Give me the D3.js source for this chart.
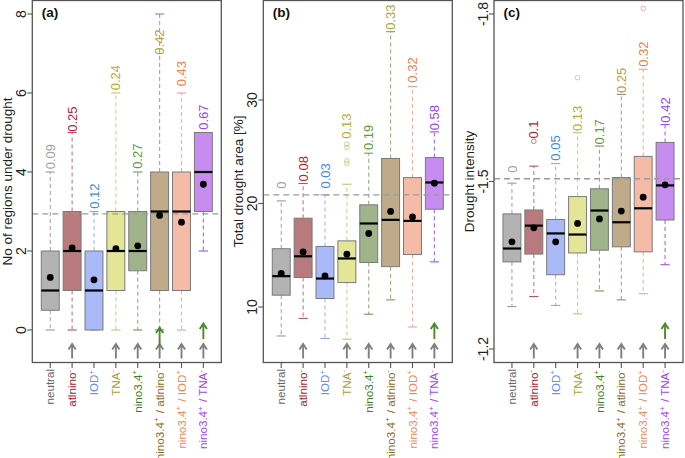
<!DOCTYPE html>
<html><head><meta charset="utf-8">
<script src="https://cdn.jsdelivr.net/npm/d3@7"></script>
<style>
body{margin:0;background:#fff}
svg{display:block}
text{font-family:"Liberation Sans",Arial,Helvetica,sans-serif}
</style></head>
<body><svg id="chart" width="685" height="458"></svg>
<script>
// ---------- DATA ----------
const categories = ["neutral","atlnino-","IOD+","TNA-","nino3.4+","nino3.4+/atlnino-","nino3.4+/IOD+","nino3.4+/TNA-"];
const xLabelParts = [
  [["neutral",""]],
  [["atlnino","-"]],
  [["IOD","+"]],
  [["TNA","-"]],
  [["nino3.4","+"]],
  [["nino3.4","+"],[" / atlnino","-"]],
  [["nino3.4","+"],[" / IOD","+"]],
  [["nino3.4","+"],[" / TNA","-"]]
];

// (a) number of regions under drought
const aLow  = [0, 0, 0, 0, 0, 0, 0, 2];
const aQ1   = [0.5, 1, 0, 1, 1.5, 1, 1, 3];
const aMed  = [1, 2, 1, 2, 2, 3, 3, 4];
const aQ3   = [2, 3, 2, 3, 3, 4, 4, 5];
const aHigh = [4, 5, 3, 6, 4, 8, 6, 5];
const aMean = [1.33, 2.08, 1.27, 2.06, 2.13, 2.9, 2.73, 3.69];
const aOut  = [[],[],[],[],[],[],[],[]];
const aProb = ["0.09","0.25","0.12","0.24","0.27","0.42","0.43","0.67"];
const aProbAt = [4.39, 5.34, 3.39, 6.39, 4.4, 7.29, 6.49, 5.39];
const aRef = 2.94;
const aTicks = [0, 2, 4, 6, 8];

// (b) total drought area [%]
const bLow  = [7.2, 8.9, 6.96, 6.89, 9.3, 10.69, 8.07, 14.36];
const bQ1   = [11.14, 12.85, 10.82, 12.36, 14.3, 13.9, 15.07, 19.45];
const bMed  = [12.98, 14.9, 12.75, 14.69, 18.07, 18.42, 18.32, 22.03];
const bQ3   = [15.63, 18.58, 15.85, 16.39, 19.87, 24.35, 22.5, 24.44];
const bHigh = [20.25, 21.93, 20.83, 21.86, 24.86, 36.6, 31.3, 26.92];
const bMean = [13.24, 15.32, 13.0, 15.1, 17.1, 19.23, 18.7, 21.96];
const bOut  = [[],[],[],[23.87, 24.12, 25.41, 25.73],[],[],[],[]];
const bProb = ["0","0.08","0.03","0.13","0.19","0.33","0.32","0.58"];
const bProbAt = [21.77, 23.36, 22.67, 27.47, 26.38, 38.0, 32.9, 28.3];
const bRef = 20.83;
const bTicks = [10, 20, 30];

// (c) drought intensity
const cLow  = [-1.276, -1.294, -1.278, -1.263, -1.304, -1.288, -1.299, -1.351];
const cQ1   = [-1.356, -1.370, -1.333, -1.372, -1.377, -1.383, -1.374, -1.431];
const cMed  = [-1.380, -1.421, -1.407, -1.405, -1.448, -1.427, -1.452, -1.493];
const cQ3   = [-1.442, -1.449, -1.432, -1.473, -1.487, -1.507, -1.545, -1.570];
const cHigh = [-1.497, -1.5275, -1.532, -1.5875, -1.5635, -1.656, -1.701, -1.602];
const cMean = [-1.392, -1.417, -1.392, -1.425, -1.433, -1.447, -1.472, -1.494];
const cOut  = [[],[-1.572],[],[-1.686],[],[],[-1.810],[]];
const cProb = ["0","0.1","0.05","0.13","0.17","0.25","0.32","0.42"];
const cProbAt = [-1.522, -1.593, -1.560, -1.613, -1.589, -1.681, -1.728, -1.628];
const cRef = -1.505;
const cTicks = [-1.8, -1.5, -1.2];

// arrows (1 = drawn)
const grayArrows = [0, 1, 0, 1, 1, 1, 1, 1];
const aGreenArrows = [0, 0, 0, 0, 0, 2, 0, 1];
const bGreenArrows = [0, 0, 0, 0, 0, 0, 0, 1];
const cGreenArrows = [0, 0, 0, 0, 0, 0, 0, 1];

// ---------- STYLE ----------
const boxFill = ["#b3b3b3","#b97a7d","#aab9f7","#e5e597","#9fb48b","#bfab89","#f4bca6","#c68cf0"];
const whiskerColor = ["#a8a8a8","#c27a7c","#a5b6f8","#cfcf8d","#94ad82","#b3a283","#f0b0a0","#a768ee"];
const capColor = ["#9a9a9a","#b2535e","#8ea4f2","#c2c27a","#75955f","#a08a62","#eea290","#9a55ee"];
const probColor = ["#a3a3a3","#b3253a","#3d8ae8","#b3b02e","#5f9b3f","#b4a03c","#ee8048","#9b45f0"];
const xLabColor = ["#666666","#a31d2b","#6a8cf5","#a8a236","#3f7f25","#8b6a1e","#f08a5c","#a445f7"];
const gray = "#808080", green = "#4f8a2f";

const panels = [
  {left:32.3, domain:[0,8], range:[330,14], ticks:aTicks, fmt:d=>String(d), title:"No of regions under drought", tag:"(a)",
   low:aLow,q1:aQ1,med:aMed,q3:aQ3,high:aHigh,mean:aMean,out:aOut,prob:aProb,probAt:aProbAt,ref:aRef,green:aGreenArrows},
  {left:263.3, domain:[10,30], range:[307,100], ticks:bTicks, fmt:d=>String(d), title:"Total drought area [%]", tag:"(b)",
   low:bLow,q1:bQ1,med:bMed,q3:bQ3,high:bHigh,mean:bMean,out:bOut,prob:bProb,probAt:bProbAt,ref:bRef,green:bGreenArrows},
  {left:494, domain:[-1.8,-1.2], range:[14,349], ticks:cTicks, fmt:d=>d.toFixed(1), title:"Drought intensity", tag:"(c)",
   low:cLow,q1:cQ1,med:cMed,q3:cQ3,high:cHigh,mean:cMean,out:cOut,prob:cProb,probAt:cProbAt,ref:cRef,green:cGreenArrows}
];

// ---------- DRAW ----------
const svg = d3.select("#chart");
const W = 189, TOP = 0.5, BOT = 362.5;
const idx = d3.range(categories.length);

function arrow(g, cx, tail, head, color){
  g.append("path")
    .attr("d", `M${cx},${tail}L${cx},${head}M${cx-3.6},${head+5.5}L${cx},${head}L${cx+3.6},${head+5.5}`)
    .attr("fill","none").attr("stroke",color).attr("stroke-width",1.9);
}

panels.forEach(p => {
  const x = d3.scaleLinear().domain([0.18, 8.82]).range([p.left, p.left + W]);
  const y = d3.scaleLinear().domain(p.domain).range(p.range);
  const g = svg.append("g");
  const unit = x(2) - x(1);
  const bw = 0.82 * unit, cw = 0.42 * unit;

  // whiskers
  g.selectAll(null).data(idx).join("line")
    .attr("x1", i => x(i+1)).attr("x2", i => x(i+1))
    .attr("y1", i => y(p.q3[i])).attr("y2", i => y(p.high[i]))
    .attr("stroke", i => whiskerColor[i]).attr("stroke-width",1.1).attr("stroke-dasharray","4,3");
  g.selectAll(null).data(idx).join("line")
    .attr("x1", i => x(i+1)).attr("x2", i => x(i+1))
    .attr("y1", i => y(p.q1[i])).attr("y2", i => y(p.low[i]))
    .attr("stroke", i => whiskerColor[i]).attr("stroke-width",1.1).attr("stroke-dasharray","4,3");
  // caps
  [p.high, p.low].forEach(arr => {
    g.selectAll(null).data(idx).join("line")
      .attr("x1", i => x(i+1) - cw/2).attr("x2", i => x(i+1) + cw/2)
      .attr("y1", i => y(arr[i])).attr("y2", i => y(arr[i]))
      .attr("stroke", i => capColor[i]).attr("stroke-width",1.1);
  });
  // boxes
  g.selectAll(null).data(idx).join("rect")
    .attr("x", i => x(i+1) - bw/2).attr("width", bw)
    .attr("y", i => Math.min(y(p.q1[i]), y(p.q3[i])))
    .attr("height", i => Math.abs(y(p.q1[i]) - y(p.q3[i])))
    .attr("fill", i => boxFill[i]).attr("stroke","#7a7a7a").attr("stroke-width",1);
  // medians
  g.selectAll(null).data(idx).join("line")
    .attr("x1", i => x(i+1) - bw/2).attr("x2", i => x(i+1) + bw/2)
    .attr("y1", i => y(p.med[i])).attr("y2", i => y(p.med[i]))
    .attr("stroke","#000").attr("stroke-width",2.2);
  // reference line
  g.append("line").attr("x1", p.left).attr("x2", p.left + W)
    .attr("y1", y(p.ref)).attr("y2", y(p.ref))
    .attr("stroke","#9a9a9a").attr("stroke-width",1.4).attr("stroke-dasharray","6,4");
  // outliers
  idx.forEach(i => {
    g.selectAll(null).data(p.out[i]).join("circle")
      .attr("cx", x(i+1)).attr("cy", d => y(d)).attr("r", 2.3)
      .attr("fill","none").attr("stroke", whiskerColor[i]).attr("stroke-width",1);
  });
  // means
  g.selectAll(null).data(idx).join("circle")
    .attr("cx", i => x(i+1)).attr("cy", i => y(p.mean[i])).attr("r", 3.4).attr("fill","#000");
  // probability labels
  g.selectAll(null).data(idx).join("text")
    .attr("transform", i => `translate(${x(i+1)},${y(p.probAt[i])}) rotate(-90)`)
    .attr("text-anchor","middle").attr("dy","0.35em")
    .attr("font-size",13).attr("fill", i => probColor[i])
    .text(i => p.prob[i]);

  // frame
  g.append("rect").attr("x", p.left).attr("y", TOP).attr("width", W).attr("height", BOT - TOP)
    .attr("fill","none").attr("stroke","#555").attr("stroke-width",1.3);
  // y ticks
  g.selectAll(null).data(p.ticks).join("line")
    .attr("x1", p.left - 5).attr("x2", p.left).attr("y1", d => y(d)).attr("y2", d => y(d))
    .attr("stroke","#555").attr("stroke-width",1.1);
  g.selectAll(null).data(p.ticks).join("text")
    .attr("transform", d => `translate(${p.left - 6.5},${y(d)}) rotate(-90)`)
    .attr("text-anchor","middle").attr("font-size",14).attr("fill","#222")
    .text(d => p.fmt(d));
  // y title
  g.append("text")
    .attr("transform", `translate(${p.left - 20.5},${(TOP + BOT)/2}) rotate(-90)`)
    .attr("text-anchor","middle").attr("font-size",13.5).attr("fill","#222")
    .text(p.title);
  // panel tag
  g.append("text").attr("x", p.left + 9.5).attr("y", 16.5)
    .attr("font-size",13.5).attr("font-weight","bold").attr("fill","#111").text(p.tag);
  // x ticks
  g.selectAll(null).data(idx).join("line")
    .attr("x1", i => x(i+1)).attr("x2", i => x(i+1)).attr("y1", BOT).attr("y2", BOT + 5.5)
    .attr("stroke","#555").attr("stroke-width",1.1);
  // x labels
  idx.forEach(i => {
    const t = g.append("text")
      .attr("transform", `translate(${x(i+1)},${BOT + 6.5}) rotate(-90)`)
      .attr("text-anchor","end").attr("dy","0.35em")
      .attr("font-size",11.6).attr("fill", xLabColor[i]);
    xLabelParts[i].forEach(([base, sup]) => {
      t.append("tspan").text(base);
      if (sup) {
        t.append("tspan").attr("font-size",8).attr("dy",-4.5).text(sup === "-" ? "-" : "+");
        t.append("tspan").attr("dy",4.5).text("\u200A");
      }
    });
  });
  // arrows
  idx.forEach(i => {
    if (grayArrows[i]) arrow(g, x(i+1), 358.5, 344, gray);
    if (p.green[i] === 1) arrow(g, x(i+1), 339, 323.5, green);
    if (p.green[i] === 2) arrow(g, x(i+1), 346, 327.5, green);
  });
});
</script></body></html>
